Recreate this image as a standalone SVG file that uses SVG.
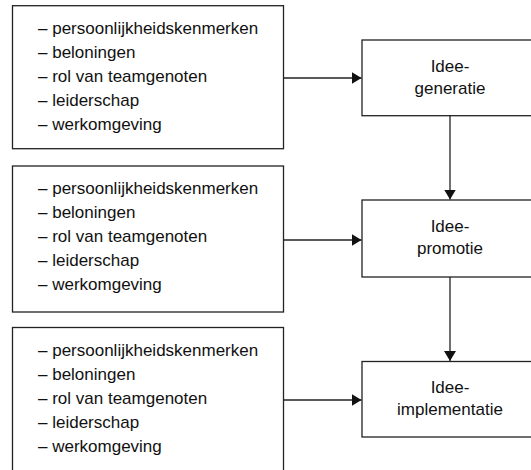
<svg xmlns="http://www.w3.org/2000/svg" width="531" height="470" viewBox="0 0 531 470">
<style>
.box{fill:#fff;stroke:#222;stroke-width:1.3}
.t{font-family:"Liberation Sans",Arial,sans-serif;font-size:17px;fill:#111}
.c{text-anchor:middle}
.ln{stroke:#222;stroke-width:1.3;fill:none}
</style>
<defs>
<marker id="ah" markerUnits="userSpaceOnUse" markerWidth="11" markerHeight="13" refX="10" refY="6" orient="auto">
<path d="M0,0 L10,6 L0,12 z" fill="#111"/>
</marker>
</defs>
<rect width="531" height="470" fill="#fff"/>
<g id="factors1">
<rect class="box" x="12.5" y="5.7" width="271" height="143"/>
<text class="t" x="38" y="33.5">– persoonlijkheidskenmerken</text>
<text class="t" x="38" y="57.5">– beloningen</text>
<text class="t" x="38" y="81.5">– rol van teamgenoten</text>
<text class="t" x="38" y="105.5">– leiderschap</text>
<text class="t" x="38" y="129.5">– werkomgeving</text>
</g>
<g id="factors2">
<rect class="box" x="12.5" y="166" width="271" height="146"/>
<text class="t" x="38" y="194">– persoonlijkheidskenmerken</text>
<text class="t" x="38" y="218">– beloningen</text>
<text class="t" x="38" y="242">– rol van teamgenoten</text>
<text class="t" x="38" y="266">– leiderschap</text>
<text class="t" x="38" y="290">– werkomgeving</text>
</g>
<g id="factors3">
<rect class="box" x="12.5" y="327.5" width="271" height="160"/>
<text class="t" x="38" y="355.5">– persoonlijkheidskenmerken</text>
<text class="t" x="38" y="379.5">– beloningen</text>
<text class="t" x="38" y="403.5">– rol van teamgenoten</text>
<text class="t" x="38" y="427.5">– leiderschap</text>
<text class="t" x="38" y="451.5">– werkomgeving</text>
</g>
<g id="generatie">
<rect class="box" x="362" y="40" width="180" height="75.7"/>
<text class="t c" x="450" y="71.5">Idee-</text>
<text class="t c" x="450" y="93.5">generatie</text>
</g>
<g id="promotie">
<rect class="box" x="362" y="200" width="180" height="77"/>
<text class="t c" x="450" y="232">Idee-</text>
<text class="t c" x="450" y="254">promotie</text>
</g>
<g id="implementatie">
<rect class="box" x="362" y="361.5" width="180" height="75.5"/>
<text class="t c" x="450" y="393">Idee-</text>
<text class="t c" x="450" y="415">implementatie</text>
</g>
<g id="connectors">
<line class="ln" x1="283.5" y1="78" x2="361.5" y2="78" marker-end="url(#ah)"/>
<line class="ln" x1="283.5" y1="240" x2="361.5" y2="240" marker-end="url(#ah)"/>
<line class="ln" x1="283.5" y1="400" x2="361.5" y2="400" marker-end="url(#ah)"/>
<line class="ln" x1="450" y1="115.7" x2="450" y2="199.5" marker-end="url(#ah)"/>
<line class="ln" x1="450" y1="277" x2="450" y2="361" marker-end="url(#ah)"/>
</g>
</svg>
